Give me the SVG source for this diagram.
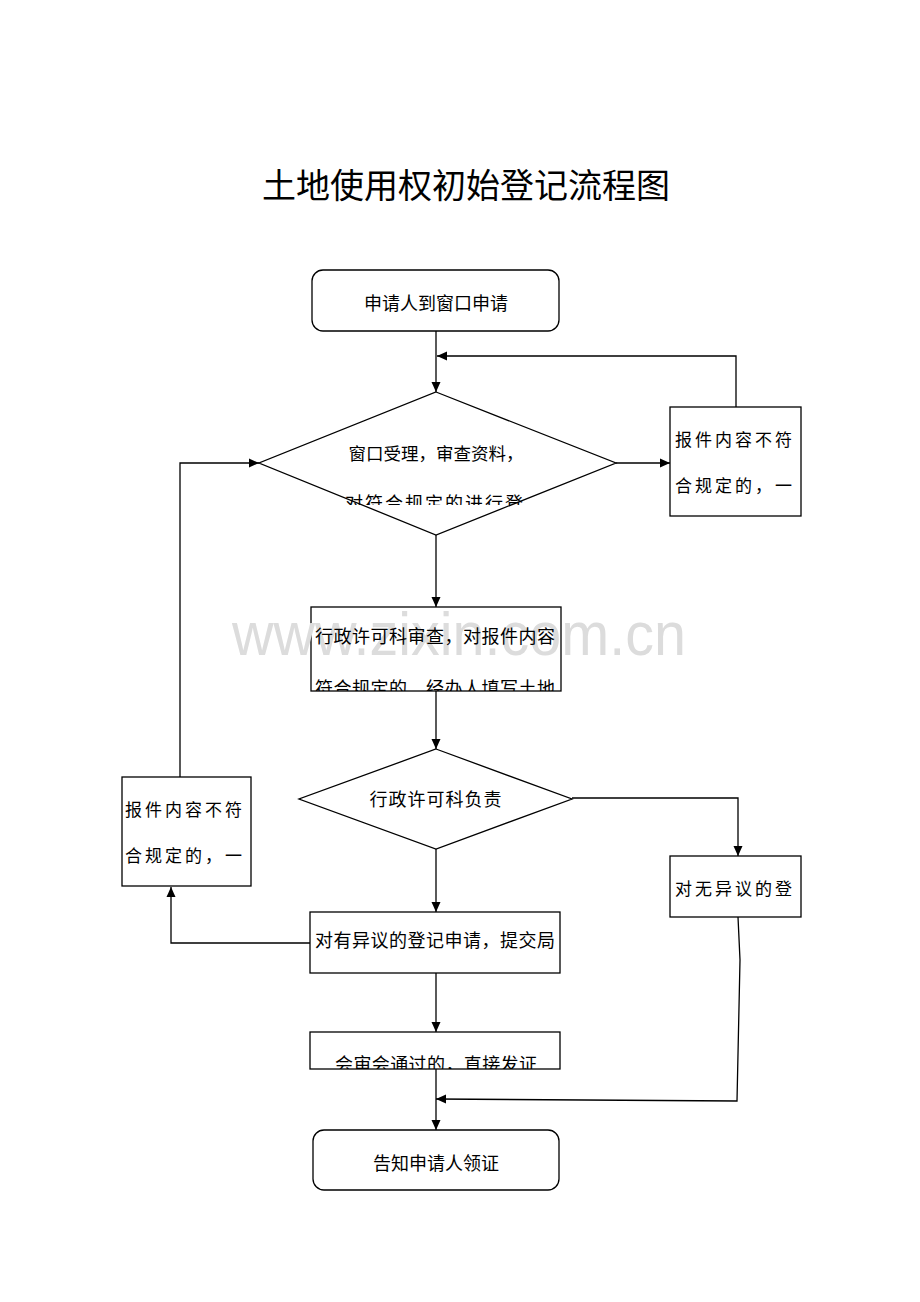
<svg xmlns="http://www.w3.org/2000/svg" width="920" height="1302" viewBox="0 0 920 1302">
<style>
.box{fill:#fff;stroke:#000;stroke-width:1.3}
.t{font-family:"Noto Sans CJK SC","Noto Sans",sans-serif;font-size:17px;fill:#000}
.c{text-anchor:middle}
.ln{fill:none;stroke:#000;stroke-width:1.3}
.wm{font-family:"Liberation Sans",Arial,sans-serif;font-size:62px;fill:#dcdcdc}
</style>
<defs>
<marker id="ah" viewBox="0 0 10 10" refX="10" refY="5" markerWidth="10" markerHeight="10" markerUnits="userSpaceOnUse" orient="auto">
<path d="M0,0.5 L10,5 L0,9.5 Z" fill="#000"/>
</marker>
<clipPath id="cd1"><rect x="340" y="480" width="190" height="25"/></clipPath>
<clipPath id="cb2"><rect x="311" y="607" width="250" height="84"/></clipPath>
<clipPath id="cb4"><rect x="310" y="1032" width="250" height="37"/></clipPath>
</defs>
<rect width="920" height="1302" fill="#fff"/>
<text x="466" y="198" class="t c" style="font-size:34px">土地使用权初始登记流程图</text>

<g id="connectors">
<line class="ln" x1="436" y1="331" x2="436" y2="392" marker-end="url(#ah)"/>
<line class="ln" x1="616" y1="463" x2="670" y2="463" marker-end="url(#ah)"/>
<polyline class="ln" points="736,407 736,356 437,356" marker-end="url(#ah)"/>
<line class="ln" x1="436" y1="535" x2="436" y2="607" marker-end="url(#ah)"/>
<line class="ln" x1="436" y1="691" x2="436" y2="749" marker-end="url(#ah)"/>
<polyline class="ln" points="572,798 738,798 738,856" marker-end="url(#ah)"/>
<polyline class="ln" points="738,917 740,960 737,1101 436,1099" marker-end="url(#ah)"/>
<line class="ln" x1="436" y1="849" x2="436" y2="912" marker-end="url(#ah)"/>
<polyline class="ln" points="310,943 171,943 171,887" marker-end="url(#ah)"/>
<polyline class="ln" points="180,777 180,463 259,463" marker-end="url(#ah)"/>
<line class="ln" x1="436" y1="973" x2="436" y2="1032" marker-end="url(#ah)"/>
<line class="ln" x1="436" y1="1069" x2="436" y2="1130" marker-end="url(#ah)"/>
</g>

<g id="n1">
<rect class="box" x="312" y="270" width="247" height="61" rx="11"/>
<text x="436" y="310" class="t c" style="font-size:18px">申请人到窗口申请</text>
</g>

<g id="n2">
<polygon class="box" points="436,392 616,463 436,535 259,463"/>
<text x="436" y="460" class="t c" style="font-size:17.5px">窗口受理，审查资料，</text>
<g clip-path="url(#cd1)"><text x="345" y="510" class="t" style="font-size:18px;letter-spacing:2px">对符合规定的进行登</text></g>
</g>

<g id="n3">
<rect class="box" x="670" y="407" width="131" height="109"/>
<text x="675" y="446" class="t" style="letter-spacing:3px">报件内容不符</text>
<text x="675" y="492" class="t" style="letter-spacing:3px">合规定的，一</text>
</g>

<g id="n4">
<rect class="box" x="311" y="607" width="250" height="84"/>
<text x="232" y="655" class="wm" textLength="454" lengthAdjust="spacingAndGlyphs">www.zixin.com.cn</text>
<text x="315" y="643" class="t" style="font-size:18px;letter-spacing:0.5px">行政许可科审查，对报件内容</text>
<g clip-path="url(#cb2)"><text x="315" y="695" class="t" style="font-size:18px;letter-spacing:0.5px">符合规定的，经办人填写土地</text></g>
</g>

<g id="n5">
<polygon class="box" points="436,749 572,799 436,849 299,799"/>
<text x="436" y="806" class="t c" style="font-size:18px;letter-spacing:1px">行政许可科负责</text>
</g>

<g id="n6">
<rect class="box" x="670" y="856" width="131" height="61"/>
<text x="675" y="895" class="t" style="letter-spacing:3px">对无异议的登</text>
</g>

<g id="n7">
<rect class="box" x="310" y="912" width="250" height="61"/>
<text x="315" y="947" class="t" style="font-size:18px;letter-spacing:0.5px">对有异议的登记申请，提交局</text>
</g>

<g id="n8">
<rect class="box" x="122" y="777" width="129" height="109"/>
<text x="125" y="816" class="t" style="letter-spacing:3px">报件内容不符</text>
<text x="125" y="862" class="t" style="letter-spacing:3px">合规定的，一</text>
</g>

<g id="n9">
<rect class="box" x="310" y="1032" width="250" height="37"/>
<g clip-path="url(#cb4)"><text x="335" y="1071" class="t" style="font-size:18px;letter-spacing:0.4px">会审会通过的，直接发证</text></g>
</g>

<g id="n10">
<rect class="box" x="313" y="1130" width="246" height="60" rx="11"/>
<text x="436" y="1170" class="t c" style="font-size:18px">告知申请人领证</text>
</g>
</svg>
